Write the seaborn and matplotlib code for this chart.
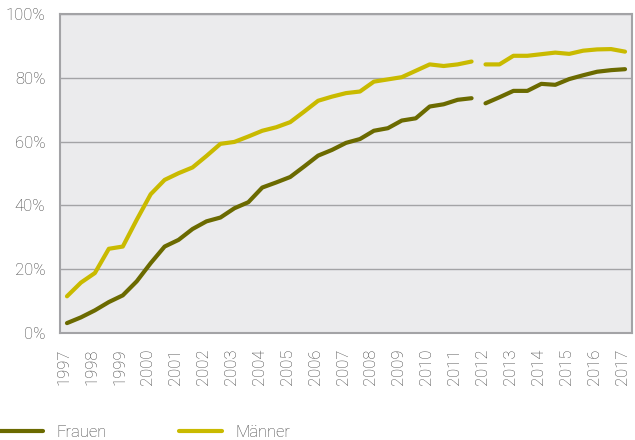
import matplotlib
matplotlib.use("Agg")
import matplotlib.pyplot as plt
from matplotlib.lines import Line2D
from matplotlib.ticker import FixedLocator
from matplotlib.transforms import ScaledTranslation
import numpy as np
import pandas as pd
import seaborn as sns

years = [str(y) for y in range(1997, 2018)]
# half-year observations 1997 ... 2017 (41 points)
frauen = [3.1, 4.9, 7.1, 9.7, 11.8, 16.2, 21.9, 27.1, 29.2, 32.6,
          35.0, 36.2, 39.1, 41.0, 45.6, 47.2, 48.9, 52.2, 55.6, 57.4,
          59.6, 60.8, 63.4, 64.2, 66.6, 67.3, 71.0, 71.7, 73.1, 73.6,
          72.0, 73.9, 75.9, 75.9, 78.1, 77.8, 79.6, 80.8, 81.9, 82.4,
          82.7]
maenner = [11.5, 15.8, 18.8, 26.4, 27.1, 35.5, 43.5, 48.0, 50.1, 51.9,
           55.5, 59.3, 59.9, 61.6, 63.4, 64.5, 66.1, 69.4, 72.8, 74.1,
           75.2, 75.7, 78.8, 79.5, 80.2, 82.2, 84.2, 83.7, 84.2, 85.1,
           84.2, 84.2, 86.9, 86.9, 87.4, 87.9, 87.5, 88.5, 88.9, 89.0,
           88.2]
series_names = ["Frauen", "Männer"]
break_index = 30  # series break (new time series from 2012)

colors = {"Frauen": "#6b6a00", "Männer": "#c9ba00"}
text_color = "#404040"
grid_color = "#a3a3a6"

n = len(frauen)
rows = []
for name, vals in zip(series_names, [frauen, maenner]):
    for i, v in enumerate(vals):
        rows.append({"pos": i, "value": v, "Geschlecht": name,
                     "seg": 0 if i < break_index else 1})
df = pd.DataFrame(rows)

sns.set_style("white")
plt.rcParams["font.family"] = ["Roboto", "DejaVu Sans"]
plt.rcParams["font.weight"] = "light"

fig = plt.figure(figsize=(6.35, 4.4), dpi=100)
ax = fig.add_axes([60 / 635, 1 - 333 / 440, 572 / 635, 319 / 440])
ax.set_facecolor("#ebebed")

sns.lineplot(data=df, x="pos", y="value", hue="Geschlecht", units="seg",
             estimator=None, palette=colors, linewidth=3.0, legend=False,
             ax=ax, solid_capstyle="round", zorder=3)

ax.set_xlim(-0.5, n - 0.5)
ax.set_ylim(0, 100)
ax.set_yticks(range(0, 101, 20))
ax.set_yticklabels([f"{v}%" for v in range(0, 101, 20)])
ax.set_xticks(range(0, n, 2))
ax.set_xticklabels(years, rotation=90)
ax.xaxis.set_minor_locator(FixedLocator(np.arange(-0.5, n, 1)))
ax.tick_params(axis="x", which="major", length=0, pad=11,
               labelsize=12, labelcolor=text_color)
ax.tick_params(axis="x", which="minor", length=3.5, width=1,
               color=grid_color, direction="out")
ax.tick_params(axis="y", length=6.5, width=1, color=grid_color,
               labelsize=12, labelcolor=text_color, pad=4)
offset = ScaledTranslation(-3 / 100, 0, fig.dpi_scale_trans)
for lab in ax.get_xticklabels():
    lab.set_transform(lab.get_transform() + offset)
ax.set_xlabel("")
ax.set_ylabel("")
ax.yaxis.grid(True, color=grid_color, linewidth=1)
ax.xaxis.grid(False)
ax.set_axisbelow(True)
for sp in ax.spines.values():
    sp.set_visible(True)
    sp.set_color(grid_color)
    sp.set_linewidth(1.5)

handles = [Line2D([0], [0], color=colors[s], linewidth=3.0) for s in series_names]
fig.legend(handles, series_names, loc="lower left", bbox_to_anchor=(0.0, 0.0),
           ncol=2, frameon=False, handlelength=2.6, handletextpad=0.8,
           columnspacing=4.3, borderpad=0, borderaxespad=0,
           prop={"size": 12}, labelcolor=text_color)

fig.savefig("out.png", dpi=100)
